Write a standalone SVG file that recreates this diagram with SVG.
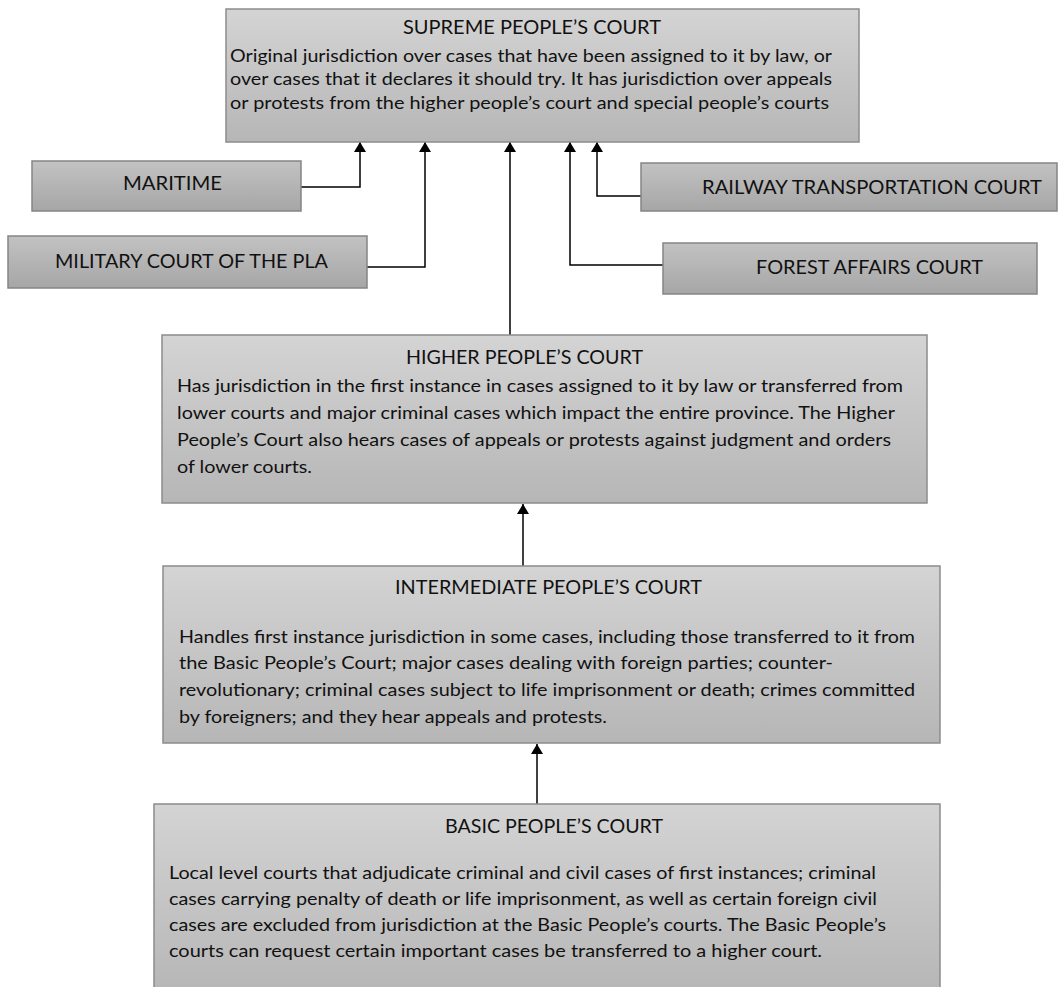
<svg xmlns="http://www.w3.org/2000/svg" width="1058" height="987" viewBox="0 0 1058 987">
<defs>
<linearGradient id="gBig" x1="0" y1="0" x2="0" y2="1">
<stop offset="0" stop-color="#d4d4d4"/>
<stop offset="1" stop-color="#b6b6b6"/>
</linearGradient>
<linearGradient id="gSmall" x1="0" y1="0" x2="0" y2="1">
<stop offset="0" stop-color="#c2c2c2"/>
<stop offset="1" stop-color="#a6a6a6"/>
</linearGradient>
<marker id="arr" viewBox="0 0 10 12" refX="10" refY="6" markerWidth="10" markerHeight="12" markerUnits="userSpaceOnUse" orient="auto">
<path d="M0,0 L10,6 L0,12 Z" fill="#000"/>
</marker>
</defs>
<style>
.big{fill:url(#gBig);stroke:#8c8c8c;stroke-width:1.5}
.small{fill:url(#gSmall);stroke:#858585;stroke-width:1.5}
text{font-family:Lato,"Open Sans","Liberation Sans",sans-serif;fill:#111}
.t{font-size:20px}
.b{font-size:17.5px}
.c{fill:none;stroke:#000;stroke-width:1.5}
</style>
<rect width="1058" height="987" fill="#fff"/>

<g id="connectors">
<polyline class="c" points="301,187 360,187 360,142" marker-end="url(#arr)"/>
<polyline class="c" points="367,267 425,267 425,142" marker-end="url(#arr)"/>
<polyline class="c" points="510,335 510,142" marker-end="url(#arr)"/>
<polyline class="c" points="663,265 570,265 570,142" marker-end="url(#arr)"/>
<polyline class="c" points="641,196 597,196 597,142" marker-end="url(#arr)"/>
<polyline class="c" points="523,566 523,504" marker-end="url(#arr)"/>
<polyline class="c" points="537,804 537,744" marker-end="url(#arr)"/>
</g>

<g id="supreme">
<rect class="big" x="226" y="9" width="633" height="133"/>
<text class="t" x="403" y="34" textLength="258" lengthAdjust="spacingAndGlyphs">SUPREME PEOPLE’S COURT</text>
<text class="b" x="230" y="62" textLength="602" lengthAdjust="spacingAndGlyphs">Original jurisdiction over cases that have been assigned to it by law, or</text>
<text class="b" x="230" y="85" textLength="602" lengthAdjust="spacingAndGlyphs">over cases that it declares it should try. It has jurisdiction over appeals</text>
<text class="b" x="230" y="109" textLength="599" lengthAdjust="spacingAndGlyphs">or protests from the higher people’s court and special people’s courts</text>
</g>

<g id="maritime">
<rect class="small" x="32" y="161" width="269" height="50"/>
<text class="t" x="123" y="190" textLength="99" lengthAdjust="spacingAndGlyphs">MARITIME</text>
</g>

<g id="military">
<rect class="small" x="8" y="236" width="359" height="52"/>
<text class="t" x="55" y="268" textLength="273" lengthAdjust="spacingAndGlyphs">MILITARY COURT OF THE PLA</text>
</g>

<g id="railway">
<rect class="small" x="641" y="163" width="416" height="48"/>
<text class="t" x="702" y="194" textLength="340" lengthAdjust="spacingAndGlyphs">RAILWAY TRANSPORTATION COURT</text>
</g>

<g id="forest">
<rect class="small" x="663" y="243" width="374" height="51"/>
<text class="t" x="756" y="274" textLength="227" lengthAdjust="spacingAndGlyphs">FOREST AFFAIRS COURT</text>
</g>

<g id="higher">
<rect class="big" x="162" y="335" width="765" height="168"/>
<text class="t" x="406" y="364" textLength="237" lengthAdjust="spacingAndGlyphs">HIGHER PEOPLE’S COURT</text>
<text class="b" x="177" y="392" textLength="726" lengthAdjust="spacingAndGlyphs">Has jurisdiction in the first instance in cases assigned to it by law or transferred from</text>
<text class="b" x="177" y="419" textLength="718" lengthAdjust="spacingAndGlyphs">lower courts and major criminal cases which impact the entire province. The Higher</text>
<text class="b" x="177" y="446" textLength="714" lengthAdjust="spacingAndGlyphs">People’s Court also hears cases of appeals or protests against judgment and orders</text>
<text class="b" x="177" y="473" textLength="135" lengthAdjust="spacingAndGlyphs">of lower courts.</text>
</g>

<g id="intermediate">
<rect class="big" x="163" y="566" width="777" height="177"/>
<text class="t" x="395" y="594" textLength="307" lengthAdjust="spacingAndGlyphs">INTERMEDIATE PEOPLE’S COURT</text>
<text class="b" x="179" y="643" textLength="736" lengthAdjust="spacingAndGlyphs">Handles first instance jurisdiction in some cases, including those transferred to it from</text>
<text class="b" x="179" y="669" textLength="654" lengthAdjust="spacingAndGlyphs">the Basic People’s Court; major cases dealing with foreign parties; counter-</text>
<text class="b" x="179" y="696" textLength="736" lengthAdjust="spacingAndGlyphs">revolutionary; criminal cases subject to life imprisonment or death; crimes committed</text>
<text class="b" x="179" y="723" textLength="428" lengthAdjust="spacingAndGlyphs">by foreigners; and they hear appeals and protests.</text>
</g>

<g id="basic">
<rect class="big" x="154" y="804" width="786" height="190"/>
<text class="t" x="445" y="833" textLength="218" lengthAdjust="spacingAndGlyphs">BASIC PEOPLE’S COURT</text>
<text class="b" x="169" y="879" textLength="707" lengthAdjust="spacingAndGlyphs">Local level courts that adjudicate criminal and civil cases of first instances; criminal</text>
<text class="b" x="169" y="905" textLength="708" lengthAdjust="spacingAndGlyphs">cases carrying penalty of death or life imprisonment, as well as certain foreign civil</text>
<text class="b" x="169" y="931" textLength="717" lengthAdjust="spacingAndGlyphs">cases are excluded from jurisdiction at the Basic People’s courts. The Basic People’s</text>
<text class="b" x="169" y="957" textLength="653" lengthAdjust="spacingAndGlyphs">courts can request certain important cases be transferred to a higher court.</text>
</g>
</svg>
